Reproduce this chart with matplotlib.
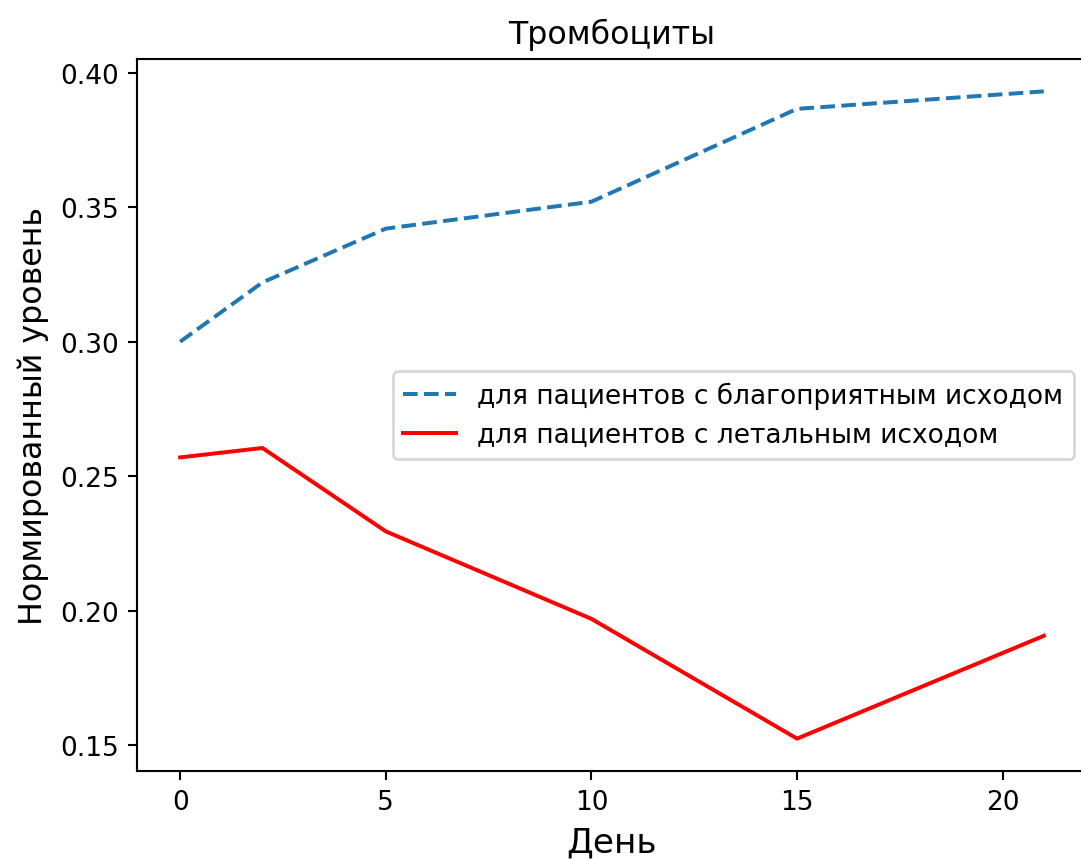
import numpy as np
import matplotlib.pyplot as plt

# days of observation
days = [0, 2, 5, 10, 15, 21]

# normalized platelet level
good = [0.300, 0.322, 0.342, 0.352, 0.3865, 0.393]
lethal = [0.257, 0.2605, 0.2295, 0.197, 0.1525, 0.1907]

label_good = 'для пациентов с благоприятным исходом'
label_lethal = 'для пациентов с летальным исходом'

dpi = 190
fig = plt.figure(figsize=(1081 / dpi, 861 / dpi), dpi=dpi)
# the right edge of the axes runs a little past the figure (cropped original)
ax = fig.add_axes([137 / 1081, 1 - 772 / 861, (1087 - 137) / 1081, (772 - 60) / 861])

ax.plot(days, good, '--', color='tab:blue', label=label_good)
ax.plot(days, lethal, '-', color='red', label=label_lethal)

ax.set_title('Тромбоциты', fontsize=12)
ax.set_xlabel('День', fontsize=13)
ax.set_ylabel('Нормированный уровень', fontsize=12)
ax.set_yticks([0.15, 0.20, 0.25, 0.30, 0.35, 0.40])
ax.legend(loc='center right')

fig.savefig('out.png', dpi=dpi)
